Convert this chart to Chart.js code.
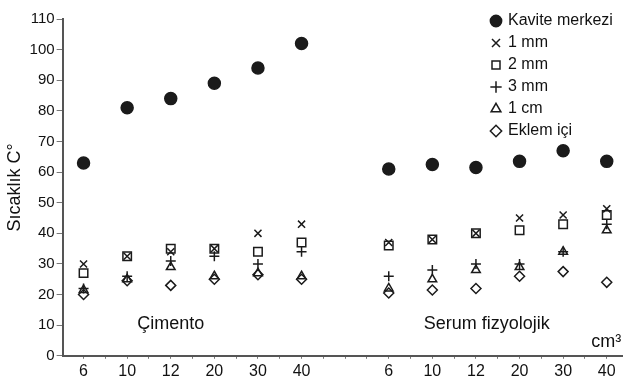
<!DOCTYPE html>
<html>
<head>
<meta charset="utf-8">
<script src="https://cdn.jsdelivr.net/npm/chart.js@4/dist/chart.umd.min.js"></script>
<style>
  html, body { margin: 0; background: #fff; }
  #wrap { width: 623px; height: 382px; }
</style>
</head>
<body>
<div id="wrap"><canvas id="c"></canvas></div>
<script>
// x positions: two groups of 6 volumes with an empty slot between them
const xLabels = ['6', '10', '12', '20', '30', '40', '', '6', '10', '12', '20', '30', '40'];
const xPos = [0, 1, 2, 3, 4, 5, 7, 8, 9, 10, 11, 12];

// temperatures (°C): Çimento then Serum fizyolojik
const kavite = [63, 81, 84, 89, 94, 102, 61, 62.5, 61.5, 63.5, 67, 63.5];
const mm1 = [30, 32.5, 34, 35, 40, 43, 37, 38, 40, 45, 46, 48];
const mm2 = [27, 32.5, 35, 35, 34, 37, 36, 38, 40, 41, 43, 46];
const mm3 = [22, 26, 31, 32.5, 30, 34, 26, 28, 30, 30, 34, 43];
const cm1 = [21.5, 25, 29, 26, 27, 26, 22, 25, 28, 29, 34, 41];
const eklem = [20, 24.5, 23, 25, 26.5, 25, 20.5, 21.5, 22, 26, 27.5, 24];

const seriesNames = ['Kavite merkezi', '1 mm', '2 mm', '3 mm', '1 cm', 'Eklem içi'];

const ink = '#1b1b1b';
Chart.defaults.font.family = "'Liberation Sans', Arial, sans-serif";
Chart.defaults.color = '#111';

function pts(vals) {
  return vals.map((v, i) => ({ x: xPos[i], y: v }));
}

function ds(label, vals, style, radius, fill) {
  return {
    label: label,
    data: pts(vals),
    pointStyle: style,
    pointRadius: radius,
    pointHoverRadius: radius,
    borderColor: ink,
    backgroundColor: fill ? ink : 'rgba(0,0,0,0)',
    pointBorderWidth: 1.5,
    borderWidth: 1.5,
    showLine: false
  };
}

// text notes inside the plot (data coordinates)
const notes = [
  { text: 'Çimento', x: 2, y: 10.5, align: 'center' },
  { text: 'Serum fizyolojik', x: 9.25, y: 10.5, align: 'center' },
  { text: 'cm³', x: 12.33, y: 4.5, align: 'right' }
];

const notesPlugin = {
  id: 'notes',
  afterDraw(chart) {
    const { ctx, scales } = chart;
    ctx.save();
    ctx.font = "18px 'Liberation Sans', Arial, sans-serif";
    ctx.fillStyle = '#111';
    ctx.textBaseline = 'middle';
    notes.forEach(n => {
      ctx.textAlign = n.align;
      ctx.fillText(n.text, scales.x.getPixelForValue(n.x), scales.y.getPixelForValue(n.y));
    });
    ctx.restore();
  }
};

// move the legend to the top right corner of the plot
const legendCorner = {
  id: 'legendCorner',
  afterLayout(chart) {
    const lg = chart.legend;
    const ca = chart.chartArea;
    if (!lg) return;
    lg.left = ca.right - 136;
    lg.right = lg.left + lg.width;
    lg.top = ca.top - 12;
    lg.bottom = lg.top + 170;
  }
};

new Chart(document.getElementById('c'), {
  type: 'scatter',
  data: {
    datasets: [
      ds(seriesNames[0], kavite, 'circle', 6, true),
      ds(seriesNames[1], mm1, 'crossRot', 5, false),
      ds(seriesNames[2], mm2, 'rect', 6, false),
      ds(seriesNames[3], mm3, 'cross', 5, false),
      ds(seriesNames[4], cm1, 'triangle', 5, false),
      ds(seriesNames[5], eklem, 'rectRot', 5, false)
    ]
  },
  options: {
    responsive: true,
    maintainAspectRatio: false,
    animation: false,
    layout: { autoPadding: false, padding: { top: 19, right: 1, bottom: -2, left: 4 } },
    plugins: {
      legend: {
        position: 'chartArea',
        fullSize: false,
        align: 'start',
        labels: {
          usePointStyle: true,
          boxWidth: 8,
          boxHeight: 8,
          padding: 6,
          color: '#111',
          font: { size: 16 }
        }
      },
      tooltip: { enabled: false }
    },
    scales: {
      x: {
        type: 'linear',
        min: -0.48,
        max: 12.35,
        border: { color: '#555', width: 2 },
        grid: { drawOnChartArea: false, tickLength: 3, color: '#777' },
        afterBuildTicks(scale) {
          const t = [];
          for (let i = 0; i <= (xLabels.length - 1) * 2; i++) t.push({ value: i / 2 });
          scale.ticks = t;
        },
        ticks: {
          autoSkip: false,
          maxRotation: 0,
          padding: 3,
          font: { size: 16 },
          color: '#111',
          callback: v => (Number.isInteger(v) ? xLabels[v] : '')
        }
      },
      y: {
        min: 0,
        max: 110,
        border: { color: '#555', width: 2 },
        grid: { drawOnChartArea: false, tickLength: 6, color: '#777' },
        ticks: { stepSize: 10, padding: 2, font: { size: 15 }, color: '#111' },
        title: {
          display: true,
          text: 'Sıcaklık C°',
          font: { size: 18 },
          color: '#111',
          padding: { top: 0, bottom: 2 }
        }
      }
    }
  },
  plugins: [notesPlugin, legendCorner]
});
</script>
</body>
</html>
